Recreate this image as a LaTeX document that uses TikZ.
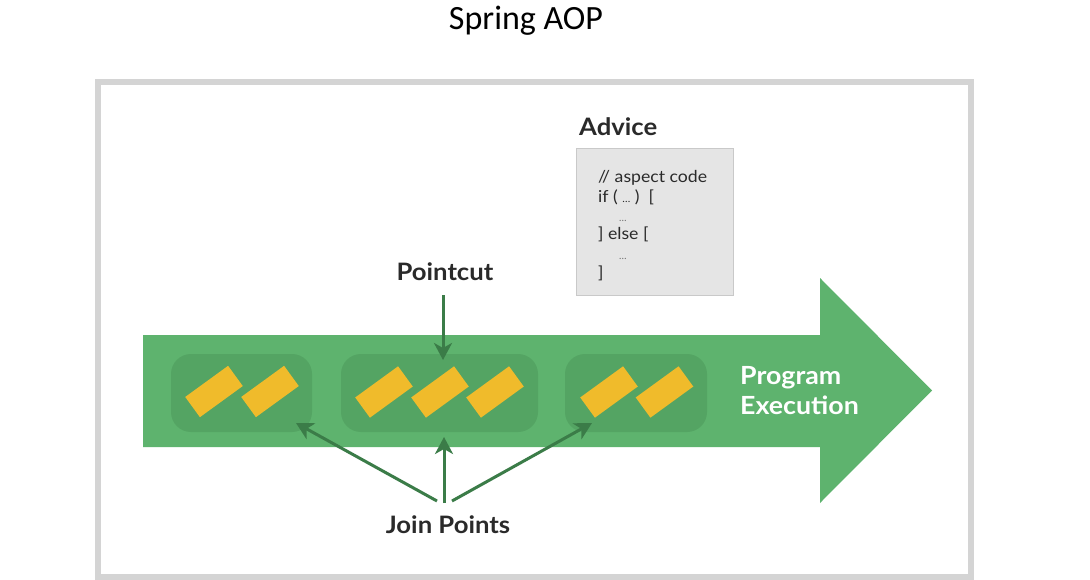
\documentclass[tikz,border=0pt]{standalone}
\usepackage{fontspec}
\setmainfont{Lato}
\newfontfamily\titlefont{Carlito}
\newfontfamily\widefont[FakeStretch=1.07]{Lato}
\usetikzlibrary{arrows.meta}
\definecolor{flowgreen}{HTML}{5EB36E}
\definecolor{boxgreen}{HTML}{54A463}
\definecolor{chipyellow}{HTML}{F0BB2B}
\definecolor{arrowgreen}{HTML}{3B7C48}
\definecolor{framegray}{HTML}{D4D4D4}
\definecolor{advicegray}{HTML}{E5E5E5}
\definecolor{adviceedge}{HTML}{C9C9C9}
\definecolor{inktext}{HTML}{2A2A2A}
\definecolor{dotgray}{HTML}{707070}
\begin{document}
\begin{tikzpicture}[x=1pt,y=-1pt,
  jpbox/.style={rounded corners=20pt, fill=boxgreen, inner sep=0pt, minimum height=78pt},
  chip/.style={fill=chipyellow, minimum width=53pt, minimum height=25pt, inner sep=0pt, rotate=36},
  pointer/.style={draw=arrowgreen, line width=3pt, -{Stealth[length=17pt,width=18pt,inset=5pt]}},
  headline/.style={font=\widefont\bfseries\fontsize{24}{28}\selectfont, text=inktext, inner sep=0pt},
  codeline/.style={anchor=base west, inner sep=0pt, font=\widefont\fontsize{16.5}{19}\selectfont, text=inktext},
  dots/.style={font=\fontsize{10}{12}\selectfont, text=dotgray}]
\useasboundingbox (0,0) rectangle (1090,580);
\fill[white] (0,0) rectangle (1090,580);
% title
\node[font=\titlefont\fontsize{34}{40}\selectfont, text=black] (title) at (526,21) {Spring AOP};
% frame
\draw[framegray, line width=6pt] (97.5,82) rectangle (970.5,577);
% flow arrow
\fill[flowgreen] (143,335) -- (820,335) -- (820,278) -- (932,390.5) -- (820,503) -- (820,447) -- (143,447) -- cycle;
\node[anchor=west, align=left, inner sep=0pt, text=white, font=\widefont\bfseries\fontsize{25}{30}\selectfont] (prog) at (740,391) {Program\\Execution};
% join point boxes
\node[jpbox, minimum width=141pt] (jp1) at (241.5,393) {};
\node[jpbox, minimum width=197pt] (jp2) at (439.5,393) {};
\node[jpbox, minimum width=142pt] (jp3) at (636,393) {};
% chips
\node[chip] (y1) at (214,391.5) {};
\node[chip] (y2) at (270,391.5) {};
\node[chip] (y3) at (384,392) {};
\node[chip] (y4) at (440,392) {};
\node[chip] (y5) at (495,392) {};
\node[chip] (y6) at (609,392) {};
\node[chip] (y7) at (664.5,392) {};
% advice
\node[headline, anchor=west] (adv) at (579,127) {Advice};
\node[draw=adviceedge, fill=advicegray, line width=1pt, minimum width=157pt, minimum height=146pt, inner sep=0pt] (advbox) at (654.5,222) {};
\node[codeline] (c1) at (598,183) {// aspect code};
\node[codeline] (c2) at (598,203) {if ( {\fontsize{10}{12}\selectfont …} ) \ [};
\node[codeline, dots] (c3) at (619,222) {…};
\node[codeline] (c4) at (598,240) {] else [};
\node[codeline, dots] (c5) at (619,260) {…};
\node[codeline] (c6) at (598,278) {]};
% pointcut
\node[headline] (pc) at (445,272) {Pointcut};
\coordinate (pcfrom) at (443,295);
\coordinate (pcto) at (443,360);
\draw[pointer] (pcfrom) -- (pcto);
% join points
\node[headline] (jpl) at (448,525) {Join Points};
\coordinate (ja) at (437,501);
\coordinate (jb) at (444,503);
\coordinate (jc) at (452,501);
\coordinate (ta) at (296,423);
\coordinate (tb) at (444,437);
\coordinate (tc) at (592,423);
\draw[pointer] (ja) -- (ta);
\draw[pointer] (jb) -- (tb);
\draw[pointer] (jc) -- (tc);
\end{tikzpicture}
\end{document}
